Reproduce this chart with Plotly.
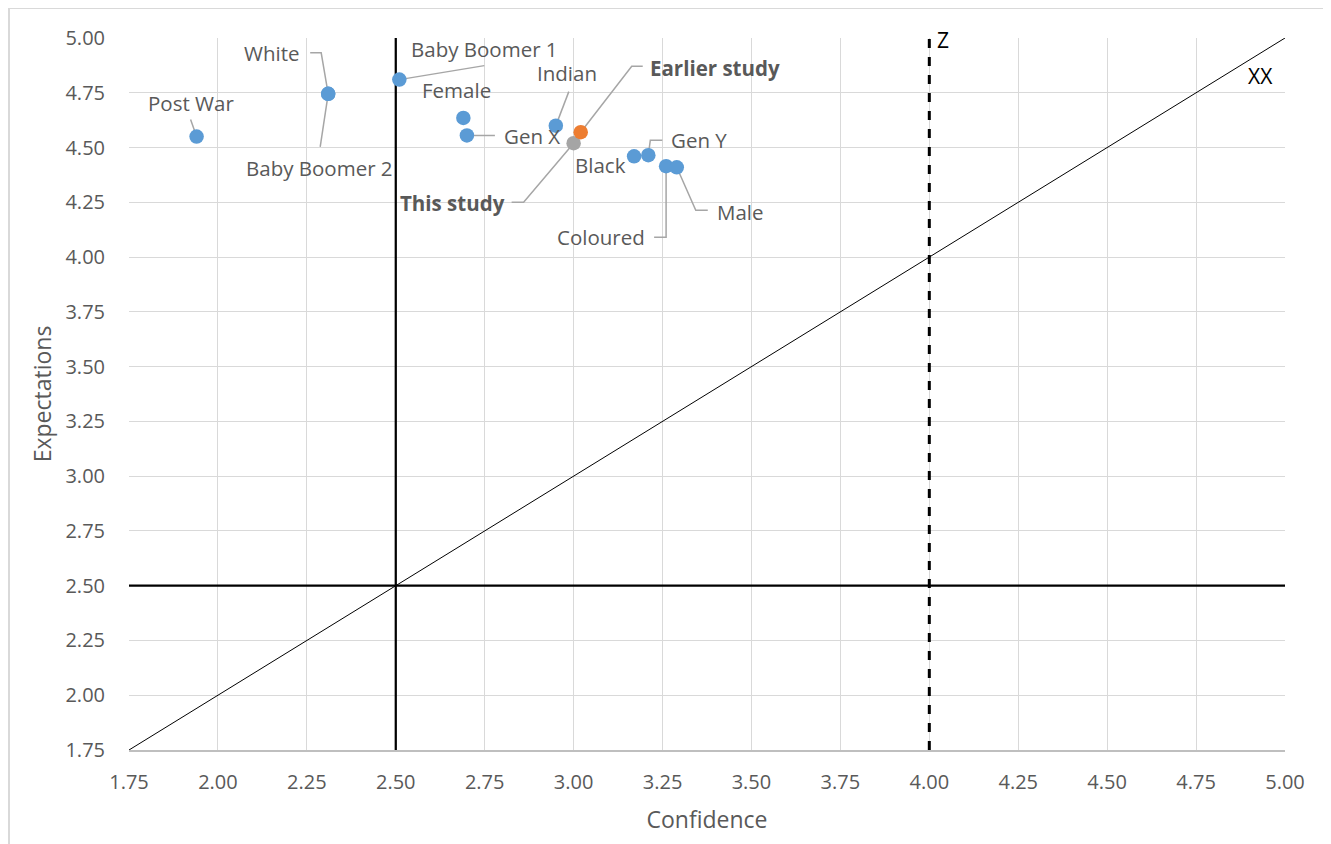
import plotly.graph_objects as go

# ---- data ----
groups = ["Post War", "White", "Baby Boomer 2", "Baby Boomer 1", "Female", "Gen X",
          "Indian", "Black", "Gen Y", "Coloured", "Male"]
confidence = [1.94, 2.31, 2.31, 2.51, 2.69, 2.70, 2.95, 3.17, 3.21, 3.26, 3.29]
expectations = [4.55, 4.745, 4.745, 4.81, 4.635, 4.555, 4.60, 4.46, 4.465, 4.415, 4.41]

this_study_name = ["This study"]
this_study_conf = [3.00]
this_study_exp = [4.52]

earlier_name = ["Earlier study"]
earlier_conf = [3.02]
earlier_exp = [4.57]

axis_min = 1.75
axis_max = 5.00
tick_vals = [1.75, 2.00, 2.25, 2.50, 2.75, 3.00, 3.25, 3.50, 3.75, 4.00, 4.25, 4.50, 4.75, 5.00]
threshold = 2.50
z_line = 4.00

# ---- styling ----
FONT = "Open Sans"
TXT = "#595959"
LEAD = "#a6a6a6"

# label offsets in screen pixels (dx right, dy down) and leader paths (screen px, relative to point)
label_style = {
    "Post War": dict(t=(-6, -34), path=[(-6, -17), (0, 0)]),
    "White": dict(t=(-56, -41), path=[(-18, -41), (-7, -41), (0, 0)]),
    "Baby Boomer 2": dict(t=(-9, 74), path=[(0, 0), (-8, 53)]),
    "Baby Boomer 1": dict(t=(85, -31), path=[(0, 0), (85, -14)]),
    "Female": dict(t=(-7, -28), path=None),
    "Gen X": dict(t=(65, 1), path=[(0, 0), (28, 0)]),
    "Indian": dict(t=(11, -53), path=[(0, 0), (13, -34)]),
    "Black": dict(t=(-34, 9), path=None),
    "Gen Y": dict(t=(51, -15), path=[(0, 0), (2, -15), (14, -15)]),
    "Coloured": dict(t=(-65, 71), path=[(-12, 71), (0, 71), (0, 0)]),
    "Male": dict(t=(64, 45), path=[(0, 0), (19, 43), (31, 43)]),
    "This study": dict(t=(-121, 60), path=[(-62, 59), (-50, 59), (0, 0)]),
    "Earlier study": dict(t=(134, -64), path=[(0, 0), (51, -66), (62, -66)]),
}

fig = go.Figure()

# reference lines
fig.add_trace(go.Scatter(x=[axis_min, axis_max], y=[axis_min, axis_max], mode="lines",
                         line=dict(color="black", width=1), hoverinfo="skip", showlegend=False))
fig.add_trace(go.Scatter(x=[threshold, threshold], y=[axis_min, axis_max], mode="lines",
                         line=dict(color="black", width=2.25), hoverinfo="skip", showlegend=False))
fig.add_trace(go.Scatter(x=[axis_min, axis_max], y=[threshold, threshold], mode="lines",
                         line=dict(color="black", width=2.25), hoverinfo="skip", showlegend=False))
fig.add_trace(go.Scatter(x=[z_line, z_line], y=[axis_min, axis_max], mode="lines",
                         line=dict(color="black", width=3, dash="dash"), hoverinfo="skip", showlegend=False))

# points
fig.add_trace(go.Scatter(x=confidence, y=expectations, mode="markers", text=groups,
                         marker=dict(color="#5B9BD5", size=14.5), showlegend=False))
fig.add_trace(go.Scatter(x=this_study_conf, y=this_study_exp, mode="markers", text=this_study_name,
                         marker=dict(color="#A5A5A5", size=14.5), showlegend=False))
fig.add_trace(go.Scatter(x=earlier_conf, y=earlier_exp, mode="markers", text=earlier_name,
                         marker=dict(color="#ED7D31", size=14.5), showlegend=False))

all_names = groups + this_study_name + earlier_name
all_x = confidence + this_study_conf + earlier_conf
all_y = expectations + this_study_exp + earlier_exp

shapes = []
annotations = []
for name, px, py in zip(all_names, all_x, all_y):
    st = label_style[name]
    bold = name in ("This study", "Earlier study")
    annotations.append(dict(
        x=px, y=py, xref="x", yref="y", showarrow=False,
        text=f"<b>{name}</b>" if bold else name,
        xshift=st["t"][0], yshift=-st["t"][1],
        font=dict(family=FONT, size=20.5, color=TXT),
        xanchor="center", yanchor="middle"))
    if st["path"]:
        d = "M " + " L ".join(f"{dx} {-dy}" for dx, dy in st["path"])
        shapes.append(dict(type="path", xref="x", yref="y", xsizemode="pixel", ysizemode="pixel",
                           xanchor=px, yanchor=py, path=d, layer="between",
                           line=dict(color=LEAD, width=1.5)))

annotations.append(dict(x=z_line, y=axis_max, xref="x", yref="y", text="Z", showarrow=False,
                        xanchor="left", yanchor="middle", xshift=6, yshift=-2,
                        font=dict(family=FONT, size=21, color="black")))
annotations.append(dict(x=axis_max, y=axis_max, xref="x", yref="y", text="XX", showarrow=False,
                        xanchor="right", yanchor="middle", xshift=-10, yshift=-38,
                        font=dict(family=FONT, size=21, color="black")))

# outer chart border
shapes.append(dict(type="rect", xref="paper", yref="paper", x0=-0.1038, x1=1.0355, y0=-0.2, y1=1.0421,
                   line=dict(color="#d9d9d9", width=2), fillcolor="rgba(0,0,0,0)", layer="below"))

# page body has an 8px default margin -> figure is 8px smaller and margins shifted
fig.update_layout(
    width=1323, height=836,
    margin=dict(l=121, r=46, t=30, b=94),
    paper_bgcolor="white", plot_bgcolor="white",
    font=dict(family=FONT, color=TXT),
    shapes=shapes, annotations=annotations,
    showlegend=False,
)
fig.update_xaxes(range=[axis_min, axis_max], tickvals=tick_vals, tickformat=".2f",
                 showgrid=True, gridcolor="#d9d9d9", gridwidth=1.2, zeroline=False,
                 showline=True, linecolor="#bfbfbf", linewidth=1.5,
                 tickfont=dict(family=FONT, size=20, color=TXT), ticklabelstandoff=13,
                 title=dict(text="Confidence", font=dict(family=FONT, size=23, color=TXT), standoff=18))
fig.update_yaxes(range=[axis_min, axis_max], tickvals=tick_vals, tickformat=".2f",
                 showgrid=True, gridcolor="#d9d9d9", gridwidth=1.2, zeroline=False,
                 showline=False,
                 tickfont=dict(family=FONT, size=20, color=TXT), ticklabelstandoff=23,
                 title=dict(text="Expectations", font=dict(family=FONT, size=23, color=TXT), standoff=7))

fig.write_html("out.html")
